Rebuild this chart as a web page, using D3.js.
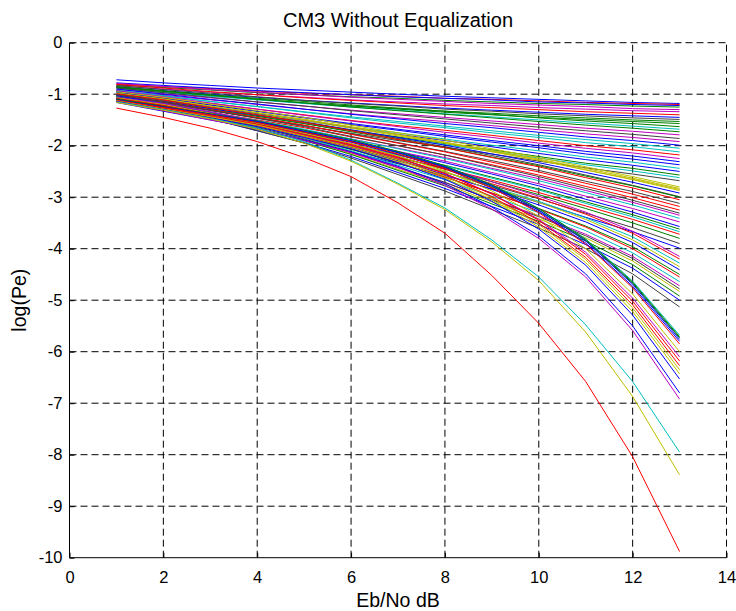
<!DOCTYPE html>
<html><head><meta charset="utf-8">
<script src="https://cdn.jsdelivr.net/npm/d3@7"></script>
<style>
body{margin:0;background:#fff}
svg{display:block}
text{font-family:"Liberation Sans",Arial,Helvetica,sans-serif;fill:#000}
</style>
</head><body>
<svg id="chart" width="736" height="611"></svg>
<script>
// ---- data ----
const ebNo = [1,2,3,4,5,6,7,8,9,10,11,12,13];
const xTicks = [0,2,4,6,8,10,12,14];
const yTicks = [0,-1,-2,-3,-4,-5,-6,-7,-8,-9,-10];
const titleText = "CM3 Without Equalization";
const xLabelText = "Eb/No dB";
const yLabelText = "log(Pe)";

// MATLAB colour code of each curve
const seriesColors = [
 'b','r','b','g','m','m','r','b','k','g','g','g','c','g','m','k','m','b','c','c','r','m','b','b','c','b','g','c','k',
 'y','y','y','y','b','k','g','r','k','r','r','k','m','c','m','b','g','c','r','g','k','b',
 'm','r','c','y','b','g','r','c','m','k','y','g','b','k',
 'c','g','g','b','b','r','y','m','r','r','y','y','b','b','m',
 'c','y','r'
];

// log10(Pe) of each curve at Eb/No = 1..13 dB
const logPe = [
 [-0.72,-0.78,-0.83,-0.88,-0.92,-0.96,-1.00,-1.04,-1.07,-1.10,-1.13,-1.16,-1.18],
 [-0.80,-0.85,-0.89,-0.94,-0.98,-1.01,-1.04,-1.08,-1.10,-1.13,-1.16,-1.18,-1.20],
 [-0.78,-0.83,-0.88,-0.93,-0.97,-1.01,-1.05,-1.08,-1.11,-1.15,-1.17,-1.20,-1.22],
 [-0.82,-0.87,-0.92,-0.97,-1.01,-1.05,-1.08,-1.12,-1.15,-1.18,-1.20,-1.23,-1.25],
 [-0.79,-0.85,-0.91,-0.96,-1.01,-1.06,-1.10,-1.14,-1.18,-1.21,-1.24,-1.28,-1.30],
 [-0.84,-0.90,-0.96,-1.01,-1.06,-1.11,-1.15,-1.19,-1.22,-1.26,-1.29,-1.32,-1.34],
 [-0.81,-0.88,-0.95,-1.01,-1.07,-1.12,-1.17,-1.22,-1.26,-1.30,-1.34,-1.37,-1.40],
 [-0.86,-0.93,-1.00,-1.06,-1.12,-1.17,-1.22,-1.27,-1.31,-1.35,-1.39,-1.42,-1.45],
 [-0.83,-0.91,-0.98,-1.05,-1.12,-1.18,-1.23,-1.29,-1.33,-1.38,-1.42,-1.46,-1.49],
 [-0.88,-0.96,-1.03,-1.10,-1.17,-1.23,-1.28,-1.33,-1.37,-1.42,-1.46,-1.50,-1.53],
 [-0.85,-0.94,-1.02,-1.10,-1.17,-1.23,-1.29,-1.35,-1.40,-1.45,-1.49,-1.53,-1.57],
 [-0.87,-0.94,-1.01,-1.08,-1.14,-1.21,-1.27,-1.33,-1.39,-1.46,-1.52,-1.57,-1.63],
 [-0.90,-0.97,-1.04,-1.11,-1.18,-1.25,-1.31,-1.38,-1.44,-1.50,-1.56,-1.62,-1.68],
 [-0.86,-0.94,-1.02,-1.10,-1.17,-1.25,-1.32,-1.39,-1.46,-1.53,-1.60,-1.66,-1.73],
 [-0.91,-0.99,-1.07,-1.15,-1.23,-1.31,-1.38,-1.45,-1.52,-1.59,-1.66,-1.72,-1.79],
 [-0.88,-0.97,-1.06,-1.15,-1.23,-1.32,-1.40,-1.48,-1.56,-1.64,-1.71,-1.78,-1.86],
 [-0.93,-1.02,-1.11,-1.20,-1.29,-1.38,-1.46,-1.53,-1.61,-1.69,-1.77,-1.84,-1.92],
 [-0.90,-1.00,-1.10,-1.19,-1.29,-1.39,-1.48,-1.57,-1.65,-1.74,-1.83,-1.90,-1.99],
 [-0.94,-1.04,-1.14,-1.24,-1.34,-1.44,-1.53,-1.62,-1.71,-1.80,-1.88,-1.96,-2.05],
 [-0.92,-1.03,-1.14,-1.24,-1.35,-1.46,-1.56,-1.65,-1.75,-1.84,-1.94,-2.02,-2.12],
 [-0.96,-1.07,-1.18,-1.29,-1.40,-1.51,-1.61,-1.70,-1.80,-1.90,-2.00,-2.08,-2.18],
 [-0.93,-1.05,-1.17,-1.29,-1.41,-1.52,-1.63,-1.74,-1.84,-1.95,-2.05,-2.14,-2.25],
 [-0.97,-1.09,-1.21,-1.33,-1.45,-1.57,-1.68,-1.79,-1.90,-2.00,-2.11,-2.20,-2.31],
 [-0.95,-1.08,-1.21,-1.33,-1.46,-1.59,-1.70,-1.82,-1.93,-2.04,-2.16,-2.26,-2.37],
 [-0.98,-1.11,-1.24,-1.37,-1.51,-1.64,-1.75,-1.87,-1.99,-2.10,-2.22,-2.32,-2.44],
 [-0.96,-1.10,-1.24,-1.38,-1.51,-1.65,-1.78,-1.90,-2.02,-2.15,-2.27,-2.38,-2.50],
 [-1.00,-1.14,-1.28,-1.42,-1.57,-1.71,-1.83,-1.96,-2.08,-2.21,-2.34,-2.44,-2.57],
 [-0.97,-1.12,-1.27,-1.42,-1.56,-1.71,-1.85,-1.98,-2.11,-2.24,-2.37,-2.49,-2.62],
 [-1.01,-1.16,-1.31,-1.46,-1.61,-1.76,-1.90,-2.03,-2.16,-2.30,-2.43,-2.55,-2.68],
 [-0.95,-1.06,-1.19,-1.32,-1.45,-1.60,-1.75,-1.89,-2.06,-2.23,-2.41,-2.60,-2.80],
 [-0.99,-1.10,-1.23,-1.36,-1.49,-1.63,-1.78,-1.93,-2.09,-2.26,-2.44,-2.63,-2.83],
 [-1.02,-1.13,-1.26,-1.39,-1.51,-1.66,-1.81,-1.95,-2.12,-2.28,-2.47,-2.65,-2.85],
 [-0.98,-1.09,-1.23,-1.36,-1.49,-1.64,-1.79,-1.94,-2.11,-2.28,-2.47,-2.66,-2.87],
 [-1.03,-1.14,-1.28,-1.41,-1.54,-1.69,-1.84,-1.99,-2.16,-2.33,-2.52,-2.71,-2.92],
 [-1.00,-1.12,-1.26,-1.40,-1.54,-1.70,-1.86,-2.02,-2.19,-2.37,-2.57,-2.77,-2.99],
 [-1.04,-1.16,-1.30,-1.43,-1.57,-1.73,-1.88,-2.04,-2.22,-2.39,-2.59,-2.78,-3.00],
 [-0.99,-1.11,-1.26,-1.40,-1.55,-1.71,-1.88,-2.04,-2.23,-2.41,-2.62,-2.82,-3.05],
 [-1.05,-1.17,-1.32,-1.46,-1.61,-1.77,-1.94,-2.11,-2.29,-2.48,-2.69,-2.89,-3.12],
 [-1.02,-1.15,-1.30,-1.45,-1.60,-1.78,-1.95,-2.12,-2.32,-2.51,-2.73,-2.94,-3.18],
 [-1.06,-1.19,-1.35,-1.50,-1.65,-1.83,-2.00,-2.18,-2.37,-2.57,-2.79,-3.01,-3.25],
 [-1.01,-1.15,-1.31,-1.47,-1.63,-1.82,-2.00,-2.18,-2.39,-2.60,-2.83,-3.06,-3.31],
 [-1.07,-1.21,-1.37,-1.53,-1.69,-1.87,-2.05,-2.23,-2.44,-2.64,-2.87,-3.10,-3.35],
 [-1.04,-1.18,-1.35,-1.51,-1.68,-1.87,-2.06,-2.25,-2.46,-2.68,-2.91,-3.15,-3.41],
 [-1.08,-1.22,-1.39,-1.56,-1.73,-1.92,-2.11,-2.30,-2.52,-2.74,-2.98,-3.22,-3.48],
 [-1.03,-1.18,-1.36,-1.54,-1.72,-1.92,-2.12,-2.33,-2.55,-2.78,-3.04,-3.29,-3.57],
 [-1.09,-1.24,-1.42,-1.60,-1.78,-1.98,-2.18,-2.38,-2.61,-2.84,-3.09,-3.34,-3.62],
 [-1.06,-1.22,-1.40,-1.58,-1.77,-1.97,-2.18,-2.39,-2.63,-2.86,-3.12,-3.38,-3.67],
 [-1.10,-1.26,-1.44,-1.62,-1.81,-2.02,-2.23,-2.44,-2.67,-2.91,-3.17,-3.43,-3.72],
 [-1.05,-1.22,-1.41,-1.60,-1.79,-2.01,-2.23,-2.45,-2.70,-2.95,-3.22,-3.50,-3.80],
 [-1.08,-1.25,-1.45,-1.64,-1.84,-2.07,-2.29,-2.52,-2.77,-3.03,-3.31,-3.59,-3.90],
 [-1.11,-1.28,-1.48,-1.69,-1.89,-2.12,-2.35,-2.58,-2.84,-3.10,-3.39,-3.67,-3.99],
 [-1.06,-1.18,-1.34,-1.52,-1.71,-1.93,-2.17,-2.42,-2.70,-2.98,-3.29,-3.66,-4.15],
 [-1.09,-1.21,-1.37,-1.56,-1.74,-1.96,-2.21,-2.46,-2.74,-3.02,-3.33,-3.70,-4.20],
 [-1.12,-1.25,-1.40,-1.59,-1.78,-2.01,-2.26,-2.51,-2.80,-3.08,-3.40,-3.77,-4.28],
 [-1.07,-1.20,-1.37,-1.56,-1.76,-1.99,-2.25,-2.51,-2.81,-3.10,-3.43,-3.83,-4.35],
 [-1.10,-1.23,-1.40,-1.60,-1.80,-2.03,-2.29,-2.56,-2.85,-3.15,-3.48,-3.88,-4.41],
 [-1.13,-1.27,-1.43,-1.64,-1.84,-2.07,-2.34,-2.61,-2.92,-3.22,-3.56,-3.96,-4.50],
 [-1.08,-1.22,-1.39,-1.60,-1.81,-2.05,-2.33,-2.61,-2.92,-3.23,-3.58,-4.00,-4.55],
 [-1.11,-1.25,-1.43,-1.64,-1.85,-2.10,-2.38,-2.66,-2.98,-3.30,-3.65,-4.08,-4.64],
 [-1.14,-1.28,-1.46,-1.68,-1.89,-2.14,-2.43,-2.72,-3.04,-3.36,-3.72,-4.15,-4.72],
 [-1.09,-1.24,-1.42,-1.64,-1.87,-2.12,-2.42,-2.71,-3.05,-3.38,-3.75,-4.19,-4.78],
 [-1.12,-1.27,-1.45,-1.68,-1.90,-2.16,-2.46,-2.75,-3.09,-3.42,-3.79,-4.24,-4.83],
 [-1.10,-1.25,-1.44,-1.67,-1.90,-2.17,-2.48,-2.78,-3.13,-3.47,-3.85,-4.31,-4.92],
 [-1.13,-1.29,-1.48,-1.71,-1.94,-2.21,-2.52,-2.83,-3.18,-3.53,-3.92,-4.38,-5.00],
 [-1.11,-1.27,-1.47,-1.71,-1.95,-2.24,-2.56,-2.88,-3.24,-3.60,-4.00,-4.49,-5.13],
 [-1.12,-1.26,-1.39,-1.53,-1.71,-1.90,-2.12,-2.40,-2.76,-3.22,-3.81,-4.63,-5.68],
 [-1.10,-1.24,-1.38,-1.52,-1.70,-1.88,-2.11,-2.39,-2.76,-3.22,-3.82,-4.65,-5.71],
 [-1.13,-1.27,-1.41,-1.54,-1.73,-1.91,-2.14,-2.42,-2.79,-3.25,-3.84,-4.67,-5.73],
 [-1.11,-1.25,-1.39,-1.53,-1.72,-1.90,-2.13,-2.41,-2.78,-3.25,-3.85,-4.69,-5.76],
 [-1.14,-1.28,-1.42,-1.56,-1.75,-1.93,-2.17,-2.44,-2.82,-3.28,-3.89,-4.73,-5.80],
 [-1.12,-1.26,-1.40,-1.55,-1.74,-1.92,-2.16,-2.44,-2.82,-3.30,-3.91,-4.76,-5.85],
 [-1.13,-1.28,-1.42,-1.57,-1.76,-1.96,-2.20,-2.49,-2.88,-3.37,-4.00,-4.88,-6.00],
 [-1.15,-1.30,-1.45,-1.60,-1.79,-1.99,-2.24,-2.54,-2.93,-3.43,-4.07,-4.96,-6.10],
 [-1.12,-1.27,-1.42,-1.58,-1.78,-1.98,-2.23,-2.54,-2.94,-3.45,-4.11,-5.02,-6.18],
 [-1.14,-1.29,-1.45,-1.60,-1.81,-2.01,-2.27,-2.58,-2.99,-3.50,-4.17,-5.09,-6.27],
 [-1.13,-1.29,-1.44,-1.60,-1.81,-2.02,-2.28,-2.59,-3.01,-3.53,-4.21,-5.15,-6.35],
 [-1.15,-1.31,-1.47,-1.63,-1.84,-2.05,-2.31,-2.63,-3.05,-3.58,-4.27,-5.22,-6.43],
 [-1.14,-1.30,-1.46,-1.63,-1.84,-2.06,-2.33,-2.65,-3.08,-3.62,-4.32,-5.29,-6.53],
 [-1.16,-1.33,-1.50,-1.67,-1.89,-2.12,-2.40,-2.74,-3.19,-3.75,-4.49,-5.50,-6.80],
 [-1.15,-1.32,-1.50,-1.67,-1.90,-2.13,-2.42,-2.77,-3.23,-3.80,-4.55,-5.59,-6.92],
 [-1.15,-1.30,-1.47,-1.66,-1.92,-2.28,-2.73,-3.21,-3.83,-4.55,-5.48,-6.58,-7.95],
 [-1.16,-1.31,-1.48,-1.68,-1.95,-2.30,-2.75,-3.24,-3.87,-4.62,-5.62,-6.87,-8.39],
 [-1.27,-1.45,-1.66,-1.92,-2.23,-2.60,-3.11,-3.70,-4.52,-5.45,-6.58,-8.04,-9.88]
];

// ---- drawing ----
const matlab = {b:'#0000ff', g:'#008000', r:'#ff0000', c:'#00bfbf', m:'#bf00bf', y:'#bfbf00', k:'#404040'};
const W = 736, H = 611;
const plot = {left: 69.5, right: 726.5, top: 42.7, bottom: 557.7};

const svg = d3.select('#chart');
svg.append('rect').attr('width', W).attr('height', H).attr('fill', '#fff');

const x = d3.scaleLinear().domain([0, 14]).range([plot.left, plot.right]);
const y = d3.scaleLinear().domain([-10, 0]).range([plot.bottom, plot.top]);
const colorScale = d3.scaleOrdinal().domain(Object.keys(matlab)).range(Object.values(matlab));
const fmt = d => String(d);   // plain hyphen-minus, as in the original

// grid (dashed)
const grid = svg.append('g').attr('stroke', '#000').attr('stroke-width', 1).attr('stroke-dasharray', '7,4').attr('fill', 'none');
grid.selectAll('line.v').data(xTicks.filter(d => d > 0)).join('line').attr('class', 'v')
  .attr('x1', d => x(d)).attr('x2', d => x(d)).attr('y1', plot.bottom).attr('y2', plot.top);
grid.selectAll('line.h').data(yTicks.filter(d => d > -10)).join('line').attr('class', 'h')
  .attr('x1', plot.left).attr('x2', plot.right).attr('y1', d => y(d)).attr('y2', d => y(d));

// curves
const line = d3.line().x((d, i) => x(ebNo[i])).y(d => y(d));
svg.append('g').attr('fill', 'none').attr('stroke-width', 1)
  .selectAll('path').data(logPe).join('path')
  .attr('d', line)
  .attr('stroke', (d, i) => colorScale(seriesColors[i]));

// axes
const xAxis = d3.axisBottom(x).tickValues(xTicks).tickSize(-5).tickPadding(12).tickFormat(fmt);
const yAxis = d3.axisLeft(y).tickValues(yTicks).tickSize(-5).tickPadding(7).tickFormat(fmt);
const gx = svg.append('g').attr('transform', `translate(0,${plot.bottom})`).call(xAxis);
const gy = svg.append('g').attr('transform', `translate(${plot.left},0)`).call(yAxis);
[gx, gy].forEach(g => {
  g.select('.domain').attr('stroke', '#000').attr('stroke-width', 1);
  g.selectAll('.tick line').attr('stroke', '#000');
  g.selectAll('.tick text').attr('font-size', 16.5).attr('fill', '#000')
   .attr('font-family', '"Liberation Sans", Arial, sans-serif');
});
gx.select('.domain').attr('d', `M${plot.left},0H${plot.right}`);
gy.select('.domain').attr('d', `M0,${plot.bottom}V${plot.top}`);
gx.selectAll('.tick text').attr('dy', null).attr('y', 25);

// title and labels
svg.append('text').attr('x', (plot.left + plot.right) / 2).attr('y', 27)
  .attr('text-anchor', 'middle').attr('font-size', 20).text(titleText);
svg.append('text').attr('x', (plot.left + plot.right) / 2).attr('y', 607)
  .attr('text-anchor', 'middle').attr('font-size', 19.5).text(xLabelText);
svg.append('text').attr('transform', `translate(26,${(plot.top + plot.bottom) / 2}) rotate(-90)`)
  .attr('text-anchor', 'middle').attr('font-size', 19.5).text(yLabelText);
</script>
</body></html>
